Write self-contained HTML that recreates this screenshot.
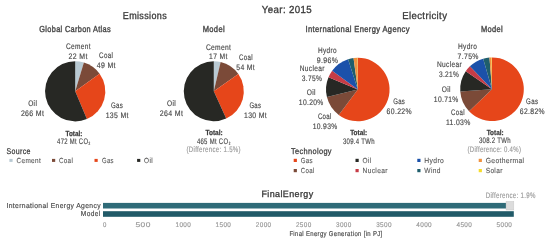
<!DOCTYPE html>
<html><head><meta charset="utf-8"><style>
html,body{margin:0;padding:0;background:#fff;width:550px;height:246px;overflow:hidden}
svg{display:block;will-change:transform}
text{font-family:"Liberation Sans", sans-serif;text-rendering:geometricPrecision}
</style></head><body>
<svg width="550" height="246" viewBox="0 0 550 246">
<rect width="550" height="246" fill="#fff"/>
<path d="M75.20,91.30 L75.20,61.20 A30.1,30.1 0 0 1 83.89,62.48 Z" fill="#b8c9d2"/>
<path d="M75.20,91.30 L83.89,62.48 A30.1,30.1 0 0 1 99.60,73.67 Z" fill="#7b4a38"/>
<path d="M75.20,91.30 L99.60,73.67 A30.1,30.1 0 0 1 86.90,119.03 Z" fill="#e6461a"/>
<path d="M75.20,91.30 L86.90,119.03 A30.1,30.1 0 1 1 75.20,61.20 Z" fill="#272824"/>
<path d="M213.80,91.30 L213.80,61.30 A30,30 0 0 1 220.63,62.09 Z" fill="#b8c9d2"/>
<path d="M213.80,91.30 L220.63,62.09 A30,30 0 0 1 238.36,74.08 Z" fill="#7b4a38"/>
<path d="M213.80,91.30 L238.36,74.08 A30,30 0 0 1 226.19,118.62 Z" fill="#e6461a"/>
<path d="M213.80,91.30 L226.19,118.62 A30,30 0 1 1 213.80,61.30 Z" fill="#272824"/>
<path d="M357.80,89.50 L357.80,57.70 A31.8,31.8 0 1 1 338.75,114.97 Z" fill="#e6461a"/>
<path d="M357.80,89.50 L338.75,114.97 A31.8,31.8 0 0 1 326.93,97.12 Z" fill="#7b4a38"/>
<path d="M357.80,89.50 L326.93,97.12 A31.8,31.8 0 0 1 328.50,77.15 Z" fill="#272824"/>
<path d="M357.80,89.50 L328.50,77.15 A31.8,31.8 0 0 1 332.19,70.65 Z" fill="#c63c46"/>
<path d="M357.80,89.50 L332.19,70.65 A31.8,31.8 0 0 1 348.09,59.22 Z" fill="#1b51aa"/>
<path d="M357.80,89.50 L348.09,59.22 A31.8,31.8 0 0 1 353.56,57.98 Z" fill="#1f5e6c"/>
<path d="M357.80,89.50 L353.56,57.98 A31.8,31.8 0 0 1 357.62,57.70 Z" fill="#f0923f"/>
<path d="M357.80,89.50 L357.62,57.70 A31.8,31.8 0 0 1 357.80,57.70 Z" fill="#f7dc2a"/>
<path d="M492.00,89.20 L492.00,57.40 A31.8,31.8 0 1 1 469.07,111.23 Z" fill="#e6461a"/>
<path d="M492.00,89.20 L469.07,111.23 A31.8,31.8 0 0 1 460.28,91.50 Z" fill="#7b4a38"/>
<path d="M492.00,89.20 L460.28,91.50 A31.8,31.8 0 0 1 465.77,71.23 Z" fill="#272824"/>
<path d="M492.00,89.20 L465.77,71.23 A31.8,31.8 0 0 1 469.90,66.34 Z" fill="#c63c46"/>
<path d="M492.00,89.20 L469.90,66.34 A31.8,31.8 0 0 1 483.17,58.65 Z" fill="#1b51aa"/>
<path d="M492.00,89.20 L483.17,58.65 A31.8,31.8 0 0 1 489.45,57.50 Z" fill="#1f5e6c"/>
<path d="M492.00,89.20 L489.45,57.50 A31.8,31.8 0 0 1 491.60,57.40 Z" fill="#f0923f"/>
<path d="M492.00,89.20 L491.60,57.40 A31.8,31.8 0 0 1 492.00,57.40 Z" fill="#f7dc2a"/>
<rect x="9.4" y="158.9" width="3.2" height="3" fill="#b8c9d2"/>
<rect x="52" y="158.9" width="3.2" height="3" fill="#7b4a38"/>
<rect x="94.5" y="158.9" width="3.2" height="3" fill="#e6461a"/>
<rect x="137.1" y="158.9" width="3.2" height="3" fill="#272824"/>
<rect x="293.7" y="158.8" width="3.2" height="3.2" fill="#e6461a"/>
<rect x="355.5" y="158.8" width="3.2" height="3.2" fill="#272824"/>
<rect x="417.3" y="158.8" width="3.2" height="3.2" fill="#1b51aa"/>
<rect x="478.7" y="158.8" width="3.2" height="3.2" fill="#f0923f"/>
<rect x="293.7" y="169" width="3.2" height="3.2" fill="#7b4a38"/>
<rect x="355.5" y="169" width="3.2" height="3.2" fill="#c63c46"/>
<rect x="417.3" y="169" width="3.2" height="3.2" fill="#1f5e6c"/>
<rect x="478.7" y="169" width="3.2" height="3.2" fill="#f7dc2a"/>
<rect x="103" y="202.9" width="403.1" height="5.6" fill="#2f6b78"/>
<rect x="506.1" y="201.5" width="7.7" height="8.5" fill="#dcdcdc" stroke="#c8c8c8" stroke-width="0.5"/>
<rect x="103" y="211.2" width="410.8" height="5.6" fill="#215a68"/>
<text x="261.8" y="12.9" font-size="10.3" font-weight="400" fill="#3a3a3a" stroke="#3a3a3a" stroke-width="0.32" letter-spacing="0.4" textLength="50.3" lengthAdjust="spacingAndGlyphs">Year: 2015</text>
<text x="122.8" y="18.8" font-size="10.0" font-weight="400" fill="#3a3a3a" stroke="#3a3a3a" stroke-width="0.32" letter-spacing="0.4" textLength="44.2" lengthAdjust="spacingAndGlyphs">Emissions</text>
<text x="402.3" y="18.8" font-size="10.0" font-weight="400" fill="#3a3a3a" stroke="#3a3a3a" stroke-width="0.32" letter-spacing="0.4" textLength="45.0" lengthAdjust="spacingAndGlyphs">Electricity</text>
<text x="39.3" y="32.3" font-size="8.7" font-weight="400" fill="#4a4a4a" stroke="#4a4a4a" stroke-width="0.4" letter-spacing="0.4" textLength="71.7" lengthAdjust="spacingAndGlyphs">Global Carbon Atlas</text>
<text x="202.7" y="32.1" font-size="8.7" font-weight="400" fill="#4a4a4a" stroke="#4a4a4a" stroke-width="0.4" letter-spacing="0.4" textLength="22.3" lengthAdjust="spacingAndGlyphs">Model</text>
<text x="305.5" y="32.2" font-size="8.7" font-weight="400" fill="#4a4a4a" stroke="#4a4a4a" stroke-width="0.4" letter-spacing="0.4" textLength="104.3" lengthAdjust="spacingAndGlyphs">International Energy Agency</text>
<text x="480.9" y="32.1" font-size="8.7" font-weight="400" fill="#4a4a4a" stroke="#4a4a4a" stroke-width="0.4" letter-spacing="0.4" textLength="22.0" lengthAdjust="spacingAndGlyphs">Model</text>
<text x="65.9" y="49.3" font-size="8" font-weight="400" fill="#484848" stroke="#484848" stroke-width="0.16" letter-spacing="0.4" textLength="24.9" lengthAdjust="spacingAndGlyphs">Cement</text>
<text x="68.6" y="58.7" font-size="8" font-weight="400" fill="#484848" stroke="#484848" stroke-width="0.16" letter-spacing="0.4" textLength="19.1" lengthAdjust="spacingAndGlyphs">22 Mt</text>
<text x="99.1" y="58.4" font-size="8" font-weight="400" fill="#484848" stroke="#484848" stroke-width="0.16" letter-spacing="0.4" textLength="14.0" lengthAdjust="spacingAndGlyphs">Coal</text>
<text x="96.8" y="68.0" font-size="8" font-weight="400" fill="#484848" stroke="#484848" stroke-width="0.16" letter-spacing="0.4" textLength="19.1" lengthAdjust="spacingAndGlyphs">49 Mt</text>
<text x="110.9" y="107.6" font-size="8" font-weight="400" fill="#484848" stroke="#484848" stroke-width="0.16" letter-spacing="0.4" textLength="12.2" lengthAdjust="spacingAndGlyphs">Gas</text>
<text x="105.7" y="117.6" font-size="8" font-weight="400" fill="#484848" stroke="#484848" stroke-width="0.16" letter-spacing="0.4" textLength="23.1" lengthAdjust="spacingAndGlyphs">135 Mt</text>
<text x="28.2" y="105.5" font-size="8" font-weight="400" fill="#484848" stroke="#484848" stroke-width="0.16" letter-spacing="0.4" textLength="9.0" lengthAdjust="spacingAndGlyphs">Oil</text>
<text x="20.9" y="115.5" font-size="8" font-weight="400" fill="#484848" stroke="#484848" stroke-width="0.16" letter-spacing="0.4" textLength="23.4" lengthAdjust="spacingAndGlyphs">266 Mt</text>
<text x="65.5" y="135.5" font-size="7.3" font-weight="700" fill="#3a3a3a" stroke="#3a3a3a" stroke-width="0.25" textLength="16.8" lengthAdjust="spacingAndGlyphs">Total:</text>
<text x="57.1" y="143.9" font-size="8" font-weight="400" fill="#484848" stroke="#484848" stroke-width="0.16" letter-spacing="0.4" textLength="31.2" lengthAdjust="spacingAndGlyphs">472 Mt CO</text>
<text x="88.5" y="145.0" font-size="4.6" font-weight="400" fill="#484848" stroke="#484848" stroke-width="0.16" letter-spacing="0.4" textLength="2.0" lengthAdjust="spacingAndGlyphs">2</text>
<text x="205.9" y="49.5" font-size="8" font-weight="400" fill="#484848" stroke="#484848" stroke-width="0.16" letter-spacing="0.4" textLength="25.3" lengthAdjust="spacingAndGlyphs">Cement</text>
<text x="209.1" y="59.0" font-size="8" font-weight="400" fill="#484848" stroke="#484848" stroke-width="0.16" letter-spacing="0.4" textLength="18.5" lengthAdjust="spacingAndGlyphs">17 Mt</text>
<text x="239.1" y="60.0" font-size="8" font-weight="400" fill="#484848" stroke="#484848" stroke-width="0.16" letter-spacing="0.4" textLength="13.8" lengthAdjust="spacingAndGlyphs">Coal</text>
<text x="236.3" y="69.6" font-size="8" font-weight="400" fill="#484848" stroke="#484848" stroke-width="0.16" letter-spacing="0.4" textLength="18.7" lengthAdjust="spacingAndGlyphs">54 Mt</text>
<text x="249.4" y="107.6" font-size="8" font-weight="400" fill="#484848" stroke="#484848" stroke-width="0.16" letter-spacing="0.4" textLength="11.9" lengthAdjust="spacingAndGlyphs">Gas</text>
<text x="244.0" y="117.6" font-size="8" font-weight="400" fill="#484848" stroke="#484848" stroke-width="0.16" letter-spacing="0.4" textLength="23.0" lengthAdjust="spacingAndGlyphs">130 Mt</text>
<text x="167.1" y="105.7" font-size="8" font-weight="400" fill="#484848" stroke="#484848" stroke-width="0.16" letter-spacing="0.4" textLength="9.0" lengthAdjust="spacingAndGlyphs">Oil</text>
<text x="159.8" y="115.6" font-size="8" font-weight="400" fill="#484848" stroke="#484848" stroke-width="0.16" letter-spacing="0.4" textLength="23.4" lengthAdjust="spacingAndGlyphs">264 Mt</text>
<text x="205.4" y="135.0" font-size="7.3" font-weight="700" fill="#3a3a3a" stroke="#3a3a3a" stroke-width="0.25" textLength="17.3" lengthAdjust="spacingAndGlyphs">Total:</text>
<text x="196.9" y="143.6" font-size="8" font-weight="400" fill="#484848" stroke="#484848" stroke-width="0.16" letter-spacing="0.4" textLength="31.5" lengthAdjust="spacingAndGlyphs">465 Mt CO</text>
<text x="228.7" y="144.8" font-size="4.6" font-weight="400" fill="#484848" stroke="#484848" stroke-width="0.16" letter-spacing="0.4" textLength="1.9" lengthAdjust="spacingAndGlyphs">2</text>
<text x="186.5" y="152.0" font-size="8" font-weight="400" fill="#999" stroke="#999" stroke-width="0.16" letter-spacing="0.4" textLength="54.4" lengthAdjust="spacingAndGlyphs">(Difference: 1.5%)</text>
<text x="318.0" y="52.5" font-size="8" font-weight="400" fill="#484848" stroke="#484848" stroke-width="0.16" letter-spacing="0.4" textLength="18.8" lengthAdjust="spacingAndGlyphs">Hydro</text>
<text x="316.8" y="62.6" font-size="8" font-weight="400" fill="#484848" stroke="#484848" stroke-width="0.16" letter-spacing="0.4" textLength="21.5" lengthAdjust="spacingAndGlyphs">9.96%</text>
<text x="299.7" y="70.7" font-size="8" font-weight="400" fill="#484848" stroke="#484848" stroke-width="0.16" letter-spacing="0.4" textLength="25.0" lengthAdjust="spacingAndGlyphs">Nuclear</text>
<text x="301.8" y="81.0" font-size="8" font-weight="400" fill="#484848" stroke="#484848" stroke-width="0.16" letter-spacing="0.4" textLength="20.5" lengthAdjust="spacingAndGlyphs">3.75%</text>
<text x="306.8" y="94.5" font-size="8" font-weight="400" fill="#484848" stroke="#484848" stroke-width="0.16" letter-spacing="0.4" textLength="9.1" lengthAdjust="spacingAndGlyphs">Oil</text>
<text x="298.8" y="104.5" font-size="8" font-weight="400" fill="#484848" stroke="#484848" stroke-width="0.16" letter-spacing="0.4" textLength="24.9" lengthAdjust="spacingAndGlyphs">10.20%</text>
<text x="317.9" y="118.7" font-size="8" font-weight="400" fill="#484848" stroke="#484848" stroke-width="0.16" letter-spacing="0.4" textLength="13.8" lengthAdjust="spacingAndGlyphs">Coal</text>
<text x="312.7" y="128.8" font-size="8" font-weight="400" fill="#484848" stroke="#484848" stroke-width="0.16" letter-spacing="0.4" textLength="24.9" lengthAdjust="spacingAndGlyphs">10.93%</text>
<text x="393.2" y="103.5" font-size="8" font-weight="400" fill="#484848" stroke="#484848" stroke-width="0.16" letter-spacing="0.4" textLength="12.0" lengthAdjust="spacingAndGlyphs">Gas</text>
<text x="386.6" y="113.5" font-size="8" font-weight="400" fill="#484848" stroke="#484848" stroke-width="0.16" letter-spacing="0.4" textLength="25.4" lengthAdjust="spacingAndGlyphs">60.22%</text>
<text x="350.2" y="135.4" font-size="7.3" font-weight="700" fill="#3a3a3a" stroke="#3a3a3a" stroke-width="0.25" textLength="16.9" lengthAdjust="spacingAndGlyphs">Total:</text>
<text x="342.9" y="144.0" font-size="8" font-weight="400" fill="#484848" stroke="#484848" stroke-width="0.16" letter-spacing="0.4" textLength="32.0" lengthAdjust="spacingAndGlyphs">309.4 TWh</text>
<text x="458.0" y="48.7" font-size="8" font-weight="400" fill="#484848" stroke="#484848" stroke-width="0.16" letter-spacing="0.4" textLength="19.1" lengthAdjust="spacingAndGlyphs">Hydro</text>
<text x="457.6" y="58.5" font-size="8" font-weight="400" fill="#484848" stroke="#484848" stroke-width="0.16" letter-spacing="0.4" textLength="21.2" lengthAdjust="spacingAndGlyphs">7.75%</text>
<text x="437.0" y="66.8" font-size="8" font-weight="400" fill="#484848" stroke="#484848" stroke-width="0.16" letter-spacing="0.4" textLength="25.0" lengthAdjust="spacingAndGlyphs">Nuclear</text>
<text x="439.0" y="76.5" font-size="8" font-weight="400" fill="#484848" stroke="#484848" stroke-width="0.16" letter-spacing="0.4" textLength="20.2" lengthAdjust="spacingAndGlyphs">3.21%</text>
<text x="441.8" y="91.8" font-size="8" font-weight="400" fill="#484848" stroke="#484848" stroke-width="0.16" letter-spacing="0.4" textLength="9.1" lengthAdjust="spacingAndGlyphs">Oil</text>
<text x="433.8" y="101.8" font-size="8" font-weight="400" fill="#484848" stroke="#484848" stroke-width="0.16" letter-spacing="0.4" textLength="24.9" lengthAdjust="spacingAndGlyphs">10.71%</text>
<text x="451.1" y="115.4" font-size="8" font-weight="400" fill="#484848" stroke="#484848" stroke-width="0.16" letter-spacing="0.4" textLength="13.7" lengthAdjust="spacingAndGlyphs">Coal</text>
<text x="445.9" y="125.4" font-size="8" font-weight="400" fill="#484848" stroke="#484848" stroke-width="0.16" letter-spacing="0.4" textLength="24.7" lengthAdjust="spacingAndGlyphs">11.03%</text>
<text x="526.1" y="104.3" font-size="8" font-weight="400" fill="#484848" stroke="#484848" stroke-width="0.16" letter-spacing="0.4" textLength="12.2" lengthAdjust="spacingAndGlyphs">Gas</text>
<text x="519.8" y="114.4" font-size="8" font-weight="400" fill="#484848" stroke="#484848" stroke-width="0.16" letter-spacing="0.4" textLength="25.1" lengthAdjust="spacingAndGlyphs">62.82%</text>
<text x="486.7" y="134.8" font-size="7.3" font-weight="700" fill="#3a3a3a" stroke="#3a3a3a" stroke-width="0.25" textLength="16.9" lengthAdjust="spacingAndGlyphs">Total:</text>
<text x="478.9" y="143.3" font-size="8" font-weight="400" fill="#484848" stroke="#484848" stroke-width="0.16" letter-spacing="0.4" textLength="32.1" lengthAdjust="spacingAndGlyphs">308.2 TWh</text>
<text x="467.5" y="151.6" font-size="8" font-weight="400" fill="#999" stroke="#999" stroke-width="0.16" letter-spacing="0.4" textLength="53.7" lengthAdjust="spacingAndGlyphs">(Difference: 0.4%)</text>
<text x="6.5" y="153.9" font-size="8.3" font-weight="400" fill="#3a3a3a" stroke="#3a3a3a" stroke-width="0.25" letter-spacing="0.4" textLength="24.3" lengthAdjust="spacingAndGlyphs">Source</text>
<text x="16.6" y="162.9" font-size="7.4" font-weight="400" fill="#555" stroke="#555" stroke-width="0.1" letter-spacing="0.4" textLength="24.4" lengthAdjust="spacingAndGlyphs">Cement</text>
<text x="58.9" y="162.9" font-size="7.4" font-weight="400" fill="#555" stroke="#555" stroke-width="0.1" letter-spacing="0.4" textLength="14.3" lengthAdjust="spacingAndGlyphs">Coal</text>
<text x="102.1" y="162.9" font-size="7.4" font-weight="400" fill="#555" stroke="#555" stroke-width="0.1" letter-spacing="0.4" textLength="11.8" lengthAdjust="spacingAndGlyphs">Gas</text>
<text x="144.1" y="162.9" font-size="7.4" font-weight="400" fill="#555" stroke="#555" stroke-width="0.1" letter-spacing="0.4" textLength="8.9" lengthAdjust="spacingAndGlyphs">Oil</text>
<text x="291.0" y="153.5" font-size="8.3" font-weight="400" fill="#3a3a3a" stroke="#3a3a3a" stroke-width="0.25" letter-spacing="0.4" textLength="40.9" lengthAdjust="spacingAndGlyphs">Technology</text>
<text x="300.7" y="163.0" font-size="7.4" font-weight="400" fill="#555" stroke="#555" stroke-width="0.1" letter-spacing="0.4" textLength="12.2" lengthAdjust="spacingAndGlyphs">Gas</text>
<text x="362.5" y="163.0" font-size="7.4" font-weight="400" fill="#555" stroke="#555" stroke-width="0.1" letter-spacing="0.4" textLength="9.0" lengthAdjust="spacingAndGlyphs">Oil</text>
<text x="424.3" y="163.0" font-size="7.4" font-weight="400" fill="#555" stroke="#555" stroke-width="0.1" letter-spacing="0.4" textLength="19.9" lengthAdjust="spacingAndGlyphs">Hydro</text>
<text x="485.7" y="163.0" font-size="7.4" font-weight="400" fill="#555" stroke="#555" stroke-width="0.1" letter-spacing="0.4" textLength="38.8" lengthAdjust="spacingAndGlyphs">Geothermal</text>
<text x="300.7" y="173.1" font-size="7.4" font-weight="400" fill="#555" stroke="#555" stroke-width="0.1" letter-spacing="0.4" textLength="13.9" lengthAdjust="spacingAndGlyphs">Coal</text>
<text x="362.5" y="173.1" font-size="7.4" font-weight="400" fill="#555" stroke="#555" stroke-width="0.1" letter-spacing="0.4" textLength="25.3" lengthAdjust="spacingAndGlyphs">Nuclear</text>
<text x="424.3" y="173.1" font-size="7.4" font-weight="400" fill="#555" stroke="#555" stroke-width="0.1" letter-spacing="0.4" textLength="16.6" lengthAdjust="spacingAndGlyphs">Wind</text>
<text x="485.7" y="173.1" font-size="7.4" font-weight="400" fill="#555" stroke="#555" stroke-width="0.1" letter-spacing="0.4" textLength="17.0" lengthAdjust="spacingAndGlyphs">Solar</text>
<text x="261.5" y="196.8" font-size="9.2" font-weight="400" fill="#3a3a3a" stroke="#3a3a3a" stroke-width="0.32" letter-spacing="0.4" textLength="52.0" lengthAdjust="spacingAndGlyphs">FinalEnergy</text>
<text x="485.7" y="198.2" font-size="8" font-weight="400" fill="#999" stroke="#999" stroke-width="0.16" letter-spacing="0.4" textLength="50.0" lengthAdjust="spacingAndGlyphs">Difference: 1.9%</text>
<text x="6.4" y="207.8" font-size="7.2" font-weight="400" fill="#484848" stroke="#484848" stroke-width="0.16" letter-spacing="0.4" textLength="94.6" lengthAdjust="spacingAndGlyphs">International Energy Agency</text>
<text x="80.8" y="216.4" font-size="7.2" font-weight="400" fill="#484848" stroke="#484848" stroke-width="0.16" letter-spacing="0.4" textLength="19.7" lengthAdjust="spacingAndGlyphs">Model</text>
<text x="103.1" y="226.7" font-size="6.8" font-weight="400" fill="#999" stroke="#999" stroke-width="0.16" letter-spacing="0.4" textLength="3.7" lengthAdjust="spacingAndGlyphs">0</text>
<text x="135.4" y="226.7" font-size="6.8" font-weight="400" fill="#999" stroke="#999" stroke-width="0.16" letter-spacing="0.4" textLength="15.5" lengthAdjust="spacingAndGlyphs">500</text>
<text x="175.5" y="226.7" font-size="6.8" font-weight="400" fill="#999" stroke="#999" stroke-width="0.16" letter-spacing="0.4" textLength="15.7" lengthAdjust="spacingAndGlyphs">1000</text>
<text x="215.6" y="226.7" font-size="6.8" font-weight="400" fill="#999" stroke="#999" stroke-width="0.16" letter-spacing="0.4" textLength="15.7" lengthAdjust="spacingAndGlyphs">1500</text>
<text x="255.8" y="226.7" font-size="6.8" font-weight="400" fill="#999" stroke="#999" stroke-width="0.16" letter-spacing="0.4" textLength="15.7" lengthAdjust="spacingAndGlyphs">2000</text>
<text x="295.9" y="226.7" font-size="6.8" font-weight="400" fill="#999" stroke="#999" stroke-width="0.16" letter-spacing="0.4" textLength="15.7" lengthAdjust="spacingAndGlyphs">2500</text>
<text x="336.0" y="226.7" font-size="6.8" font-weight="400" fill="#999" stroke="#999" stroke-width="0.16" letter-spacing="0.4" textLength="15.7" lengthAdjust="spacingAndGlyphs">3000</text>
<text x="376.2" y="226.7" font-size="6.8" font-weight="400" fill="#999" stroke="#999" stroke-width="0.16" letter-spacing="0.4" textLength="15.7" lengthAdjust="spacingAndGlyphs">3500</text>
<text x="416.3" y="226.7" font-size="6.8" font-weight="400" fill="#999" stroke="#999" stroke-width="0.16" letter-spacing="0.4" textLength="15.7" lengthAdjust="spacingAndGlyphs">4000</text>
<text x="456.5" y="226.7" font-size="6.8" font-weight="400" fill="#999" stroke="#999" stroke-width="0.16" letter-spacing="0.4" textLength="15.7" lengthAdjust="spacingAndGlyphs">4500</text>
<text x="496.6" y="226.7" font-size="6.8" font-weight="400" fill="#999" stroke="#999" stroke-width="0.16" letter-spacing="0.4" textLength="15.7" lengthAdjust="spacingAndGlyphs">5000</text>
<text x="289.4" y="235.6" font-size="7" font-weight="400" fill="#505050" stroke="#505050" stroke-width="0.2" letter-spacing="0.4" textLength="93.2" lengthAdjust="spacingAndGlyphs">Final Energy Generation [in PJ]</text>
</svg>
</body></html>
